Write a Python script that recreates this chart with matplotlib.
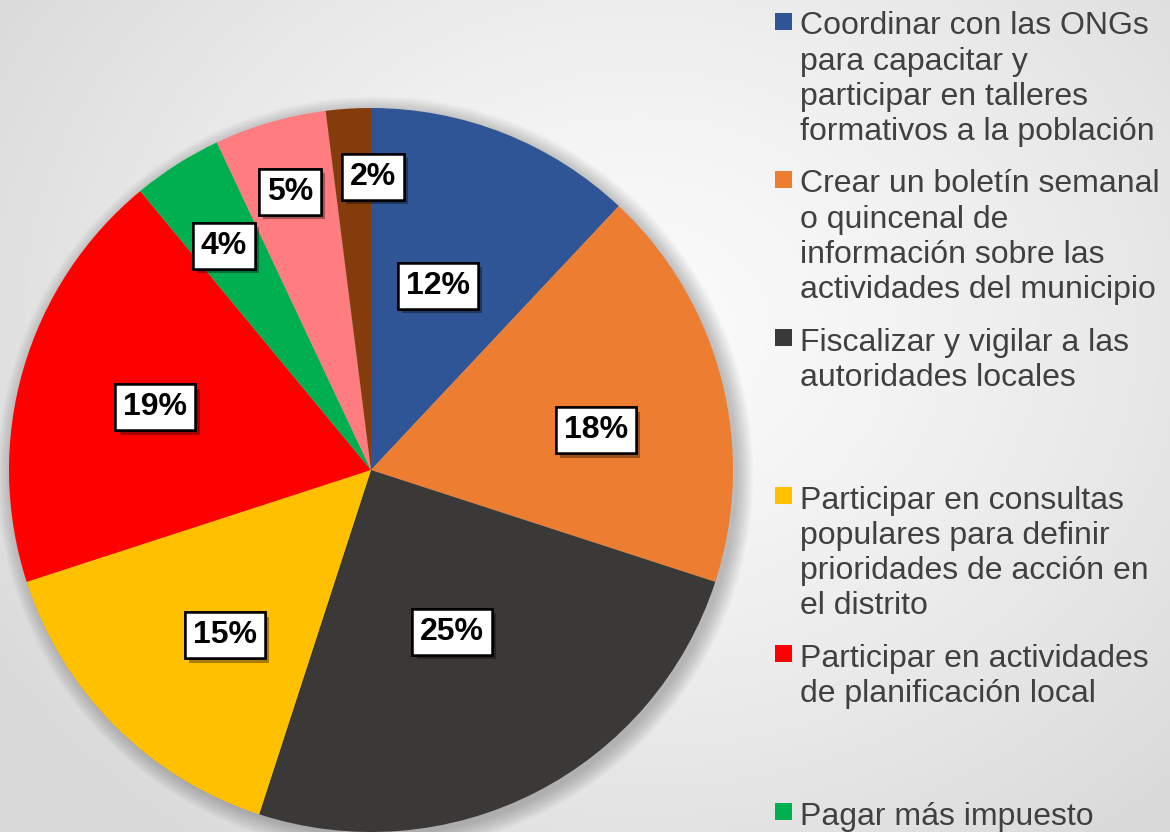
import numpy as np
import matplotlib.pyplot as plt
import matplotlib.patheffects as pe
from matplotlib.patches import Circle, Rectangle

# data
categories = [
    "Coordinar con las ONGs\npara capacitar y\nparticipar en talleres\nformativos a la población",
    "Crear un boletín semanal\no quincenal de\ninformación sobre las\nactividades del municipio",
    "Fiscalizar y vigilar a las\nautoridades locales",
    "Participar en consultas\npopulares para definir\nprioridades de acción en\nel distrito",
    "Participar en actividades\nde planificación local",
    "Pagar más impuesto",
    None,  # legend entries below the visible area
    None,
]
shares = [12, 18, 25, 15, 19, 4, 5, 2]
colors = ["#2F5597", "#ED7D31", "#3B3938", "#FFC000", "#FF0000", "#00B050", "#FF7C80", "#843C0C"]

# label placement (style only)
label_r = [0.54, 0.63, 0.50, 0.61, 0.62, 0.74, 0.80, 0.81]
label_shift = [-1.7, 4.4, 0.3, -3.5, 0.0, -0.9, 0.0, 4.0]

W, H = 1170, 832
fig = plt.figure(figsize=(W / 100, H / 100), dpi=100)

# radial gradient background
bg = fig.add_axes([0, 0, 1, 1])
yy, xx = np.mgrid[0:H, 0:W]
d = np.sqrt(((xx - 640) / 760.0) ** 2 + ((yy - 330) / 640.0) ** 2)
d = np.clip(d, 0, 1)
shade = 0.985 - 0.13 * d ** 1.3
bg.imshow(np.dstack([shade] * 3), extent=[0, W, H, 0], aspect="auto")
bg.set_xlim(0, W)
bg.set_ylim(H, 0)
bg.axis("off")

# pie
R = 362
cx, cy = 371, 470
ax = fig.add_axes([(cx - R) / W, (H - cy - R) / H, 2 * R / W, 2 * R / H])

# soft shadow around the pie
for i in range(12):
    ax.add_patch(Circle((0.012, -0.012), 1.0 + 0.004 * i, color="black",
                        alpha=0.018, lw=0, zorder=0, clip_on=False))

wedges, _ = ax.pie(shares, colors=colors, startangle=90, counterclock=False,
                   radius=1.0, wedgeprops=dict(linewidth=0))
ax.set_xlim(-1, 1)
ax.set_ylim(-1, 1)
ax.set_aspect("equal")
ax.axis("off")

for w, v, r, s in zip(wedges, shares, label_r, label_shift):
    mid = np.radians((w.theta1 + w.theta2) / 2 - s)
    t = ax.text(r * np.cos(mid), r * np.sin(mid), f"{v}%", ha="center", va="center",
                fontsize=23, fontweight="bold", family="Liberation Sans", color="black",
                bbox=dict(boxstyle="square,pad=0.25", fc="white", ec="black", lw=1.8),
                zorder=5)
    t.get_bbox_patch().set_path_effects([
        pe.withSimplePatchShadow(offset=(3, -3), shadow_rgbFace="black", alpha=0.35),
        pe.Normal()])

# legend (manual so spacing matches the original)
step = 158
for i, (lab, col) in enumerate(zip(categories, colors)):
    if lab is None:
        continue
    sy = 21.5 + i * step
    bg.add_patch(Rectangle((775, sy - 8.5), 17, 17, color=col, lw=0))
    bg.text(800, sy - 10, lab, ha="left", va="top", fontsize=23,
            family="Liberation Sans", color="#404040", linespacing=1.22)

fig.savefig("out.png", dpi=100)
